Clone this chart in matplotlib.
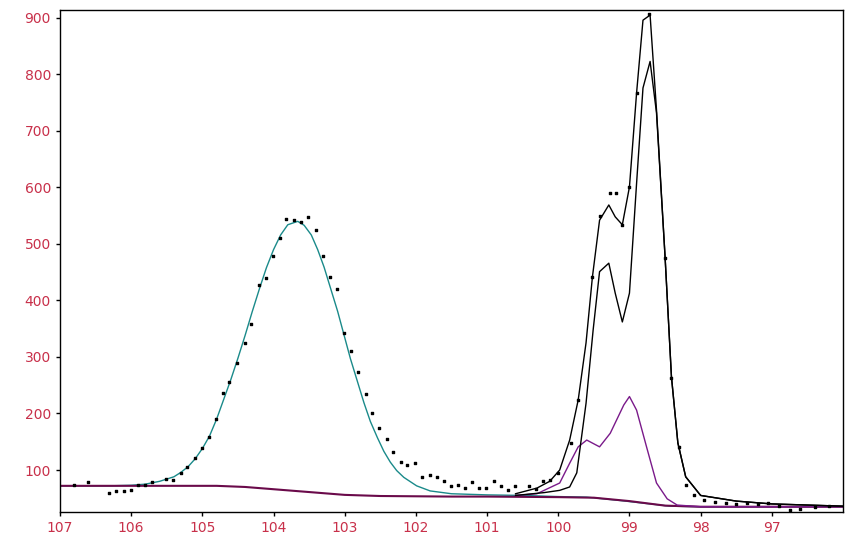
import matplotlib
matplotlib.use('Agg')
import matplotlib.pyplot as plt

# background (thick dark purple)
bg_x = [107.0, 104.8, 104.4, 104.0, 103.6, 103.0, 102.5, 101.5, 101.0, 100.0, 99.5, 99.0, 98.5, 98.0, 96.0]
bg_y = [72, 72, 70, 66, 62, 56, 54, 53, 53, 52, 51, 45, 37, 35, 35]

# teal fitted peak
teal_x = [107.0, 106.3, 106.0, 105.8, 105.6, 105.4, 105.3, 105.2, 105.1, 105.0, 104.9, 104.8, 104.7,
          104.6, 104.5, 104.4, 104.3, 104.2, 104.1, 104.0, 103.9, 103.8, 103.66,
          103.57, 103.47, 103.38, 103.29, 103.2, 103.1, 103.01, 102.92, 102.82, 102.73, 102.64,
          102.54, 102.45, 102.36, 102.27, 102.17, 101.99, 101.8, 101.5, 101.0, 100.5, 100.0,
          99.6, 99.13, 98.43, 98.0, 96.0]
teal_y = [72, 72, 73, 75, 80, 88, 96, 106, 120, 138, 160, 190, 225,
          260, 298, 338, 380, 420, 458, 490, 516, 534, 540,
          533, 516, 490, 459, 422, 381, 339, 297, 256, 219, 186,
          157, 133, 114, 99, 87, 72, 63, 58, 56, 55, 53,
          52, 46, 36, 35, 35]

# purple component
pur_x = [100.6, 100.3, 99.98, 99.84, 99.72, 99.6, 99.42, 99.27, 99.08, 99.0, 98.9, 98.76, 98.62, 98.47, 98.33, 98.0, 96.0]
pur_y = [55, 58, 77, 112, 141, 153, 141, 165, 215, 230, 206, 141, 77, 49, 38, 35, 35]

# envelope (upper black)
up_x = [100.6, 100.3, 100.12, 99.98, 99.84, 99.72, 99.61, 99.52, 99.42, 99.29, 99.2, 99.1, 99.0, 98.9,
        98.81, 98.71, 98.62, 98.5, 98.41, 98.32, 98.21, 98.0, 97.5, 97.0, 96.0]
up_y = [58, 68, 80, 100, 153, 224, 325, 442, 542, 569, 548, 534, 601, 767,
        896, 905, 737, 478, 265, 148, 88, 55, 45, 40, 36]

# lower black
lo_x = [100.6, 100.2, 99.98, 99.84, 99.74, 99.61, 99.51, 99.42, 99.29, 99.2, 99.1, 99.0, 98.9,
        98.81, 98.71, 98.62, 98.5, 98.41, 98.32, 98.21, 98.0, 97.5, 97.0, 96.0]
lo_y = [55, 60, 64, 70, 95, 218, 348, 451, 466, 413, 362, 413, 607,
        776, 823, 732, 478, 265, 148, 88, 55, 45, 40, 36]

# measured points
dot_x = [106.8, 106.61, 106.31, 106.21, 106.1, 106.0, 105.9, 105.81, 105.71, 105.51, 105.41, 105.3, 105.21,
         105.1, 105.01, 104.91, 104.81, 104.71, 104.62, 104.52, 104.4, 104.31, 104.2, 104.1, 104.01, 103.91,
         103.82, 103.71, 103.61, 103.51, 103.41, 103.31, 103.21, 103.11, 103.01, 102.91, 102.81, 102.7, 102.61,
         102.52, 102.41, 102.32, 102.21, 102.12, 102.01, 101.91, 101.8, 101.71, 101.61, 101.51, 101.41, 101.31,
         101.21, 101.12, 101.01, 100.9, 100.81, 100.71, 100.61, 100.41, 100.31, 100.21, 100.11, 100.01,
         99.82, 99.72, 99.52, 99.42, 99.28, 99.19, 99.1, 99.0, 98.9, 98.72, 98.5, 98.41, 98.31, 98.21,
         98.1, 97.95, 97.8, 97.65, 97.5, 97.35, 97.2, 97.05, 96.9, 96.75, 96.6, 96.4, 96.2]
dot_y = [74, 79, 59, 62, 62, 65, 74, 74, 79, 84, 82, 94, 106,
         122, 139, 159, 190, 236, 255, 290, 325, 358, 427, 440, 478, 510,
         544, 542, 538, 548, 524, 478, 442, 420, 343, 311, 274, 235, 200,
         174, 155, 132, 114, 109, 113, 88, 92, 88, 80, 71, 74, 68,
         78, 69, 69, 80, 72, 65, 72, 71, 66, 80, 83, 95,
         148, 224, 442, 549, 590, 590, 534, 601, 767, 907, 475, 263, 141, 73,
         55, 47, 44, 42, 40, 41, 39, 42, 36, 30, 31, 35, 36]

fig = plt.figure(figsize=(8.53, 5.4), dpi=100)
ax = fig.add_axes([60 / 853, 28 / 540, 783 / 853, 502 / 540])

ax.plot(teal_x, teal_y, color='#1a8a8a', lw=1)
ax.plot(bg_x, bg_y, color='#6a0a4a', lw=1.5)
ax.plot(pur_x, pur_y, color='#7a1a8a', lw=1)
ax.plot(lo_x, lo_y, color='black', lw=1)
ax.plot(up_x, up_y, color='black', lw=1)
ax.scatter(dot_x, dot_y, s=3, marker='s', color='black', zorder=5)

ax.set_xlim(107, 96.0)
ax.set_ylim(25.7, 914)
ax.set_xticks(range(107, 96, -1))
ax.set_yticks(range(100, 1000, 100))
lab = '#c8304a'
ax.tick_params(direction='out', length=3, labelsize=10, labelcolor=lab, width=1)
for s in ax.spines.values():
    s.set_linewidth(1)

fig.savefig('out.png', dpi=100)
